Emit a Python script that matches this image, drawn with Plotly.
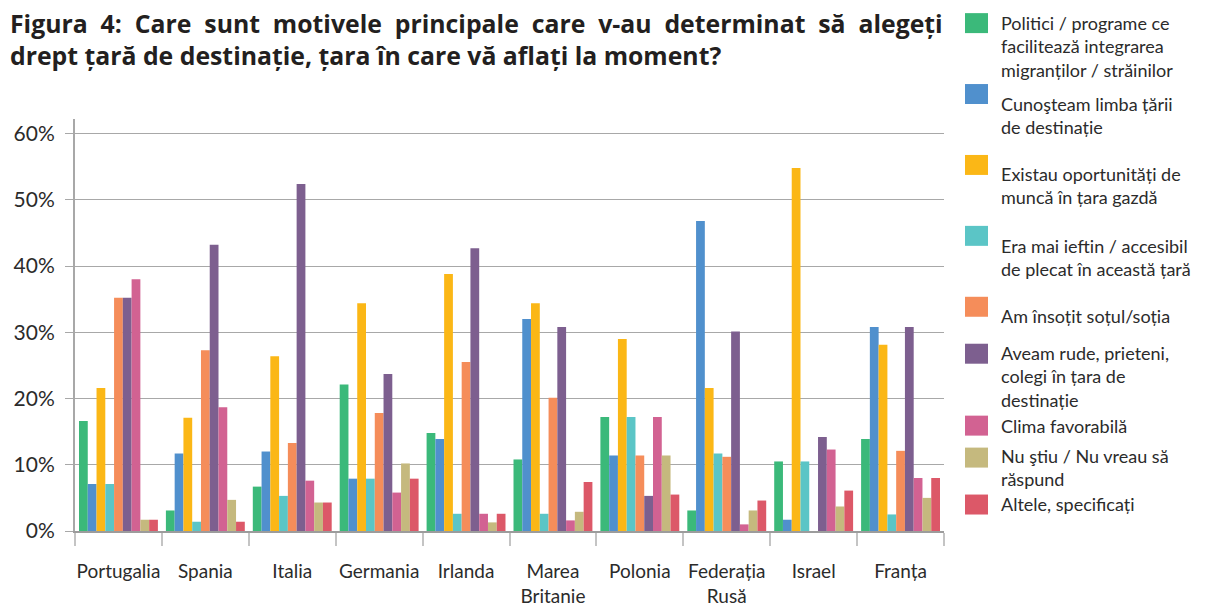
import plotly.graph_objects as go

# --- data (percent of respondents) ---
countries = ["Portugalia", "Spania", "Italia", "Germania", "Irlanda",
             "Marea<br>Britanie", "Polonia", "Federația<br>Rusă", "Israel", "Franța"]

politici = [16.6, 3.1, 6.7, 22.1, 14.8, 10.8, 17.2, 3.1, 10.5, 13.9]
limba = [7.1, 11.7, 12.0, 7.9, 13.9, 32.0, 11.4, 46.8, 1.7, 30.8]
munca = [21.6, 17.1, 26.4, 34.4, 38.8, 34.4, 29.0, 21.6, 54.8, 28.1]
ieftin = [7.1, 1.4, 5.3, 7.9, 2.6, 2.6, 17.2, 11.7, 10.5, 2.5]
sot = [35.2, 27.3, 13.3, 17.8, 25.5, 20.1, 11.4, 11.2, None, 12.1]
rude = [35.2, 43.2, 52.4, 23.7, 42.7, 30.8, 5.3, 30.1, 14.2, 30.8]
clima = [38.0, 18.7, 7.6, 5.8, 2.6, 1.6, 17.2, 1.0, 12.3, 8.0]
nu_stiu = [1.7, 4.7, 4.3, 10.2, 1.3, 2.9, 11.4, 3.1, 3.7, 5.0]
altele = [1.7, 1.4, 4.3, 7.9, 2.6, 7.4, 5.5, 4.6, 6.1, 8.0]

series_names = [
    "Politici / programe ce<br>facilitează integrarea<br>migranților / străinilor",
    "Cunoşteam limba țării<br>de destinație",
    "Existau oportunități de<br>muncă în țara gazdă",
    "Era mai ieftin / accesibil<br>de plecat în această țară",
    "Am însoțit soțul/soția",
    "Aveam rude, prieteni,<br>colegi în țara de<br>destinație",
    "Clima favorabilă",
    "Nu ştiu / Nu vreau să<br>răspund",
    "Altele, specificați",
]
series_values = [politici, limba, munca, ieftin, sot, rude, clima, nu_stiu, altele]
colors = ["#3BB97A", "#5090CD", "#FBB716", "#5BC5C6", "#F58D5A",
          "#7D5F8F", "#D26292", "#C5B97E", "#DC5868"]

title_words = ["Figura", "4:", "Care", "sunt", "motivele", "principale",
               "care", "v-au", "determinat", "să", "alegeți"]
title_line2 = "drept țară de destinație, țara în care vă aflați la moment?"

W, H = 1208, 607
PX_L, PX_R, PX_T, PX_B = 75, 944, 119, 531.5
FONT = "Lato, 'Noto Sans', sans-serif"
TITLE_FONT = "'Open Sans', Lato, sans-serif"
TXT = "#2b2b2b"


def px2paper(x, y):
    return (x - PX_L) / (PX_R - PX_L), (PX_B - y) / (PX_B - PX_T)


fig = go.Figure()
for name, vals, col in zip(series_names, series_values, colors):
    fig.add_trace(go.Bar(
        x=countries, y=vals, name=name.replace("<br>", " "),
        marker=dict(color=col, line=dict(width=0)),
        showlegend=False,
    ))

# manual legend on the right (square + wrapped text)
legend_sq_top = [13, 84, 155, 226, 297, 344, 416, 448, 495]
legend_txt_top = [10, 91, 161, 233, 303, 340, 413, 443, 491]
shapes = []
annotations = []
for name, col, sq, tt in zip(series_names, colors, legend_sq_top, legend_txt_top):
    x0, y0 = px2paper(965, sq)
    x1, y1 = px2paper(988, sq + 20)
    shapes.append(dict(type="rect", xref="paper", yref="paper",
                       x0=x0, x1=x1, y0=y1, y1=y0,
                       fillcolor=col, line=dict(width=0)))
    ax, ay = px2paper(999, tt)
    annotations.append(dict(text=name, xref="paper", yref="paper", x=ax, y=ay,
                            xanchor="left", yanchor="top", align="left",
                            showarrow=False,
                            font=dict(family=FONT, size=18, color=TXT)))

# title: first line is justified in the reference -> widened word gaps
line1 = "\u00a0\u00a0".join(title_words)
ax, ay = px2paper(8, 4)
annotations.append(dict(text="<b>" + line1 + "<br>" + title_line2 + "</b>",
                        xref="paper", yref="paper", x=ax, y=ay,
                        xanchor="left", yanchor="top", align="left",
                        showarrow=False,
                        font=dict(family=TITLE_FONT, size=24.8, color="#231f20")))

fig.update_layout(
    width=W, height=H,
    margin=dict(l=PX_L, r=W - PX_R, t=PX_T, b=H - PX_B, autoexpand=False),
    plot_bgcolor="white", paper_bgcolor="white",
    barmode="group", bargap=0.092, bargroupgap=0,
    font=dict(family=FONT, color=TXT),
    shapes=shapes, annotations=annotations,
    xaxis=dict(
        type="category", tickson="boundaries", ticks="outside", ticklen=13,
        tickcolor="#c4c4c4", tickwidth=2, tickangle=0, automargin=False,
        showline=True, linecolor="#9c9c9c", linewidth=2,
        showgrid=False, tickfont=dict(size=19, color=TXT),
        ticklabelstandoff=22,
    ),
    yaxis=dict(
        range=[0, 62.2], dtick=10, ticksuffix="%", automargin=False,
        showgrid=True, gridcolor="#a8a8a8", gridwidth=1,
        zeroline=False,
        showline=True, linecolor="#a8a8a8", linewidth=2,
        ticks="outside", ticklen=8, tickcolor="#a8a8a8", tickwidth=1,
        tickfont=dict(size=21, color=TXT), ticklabelstandoff=6,
    ),
)

fig.write_html("out.html", config={"displayModeBar": False},
               post_script="document.body.style.margin='0';")
